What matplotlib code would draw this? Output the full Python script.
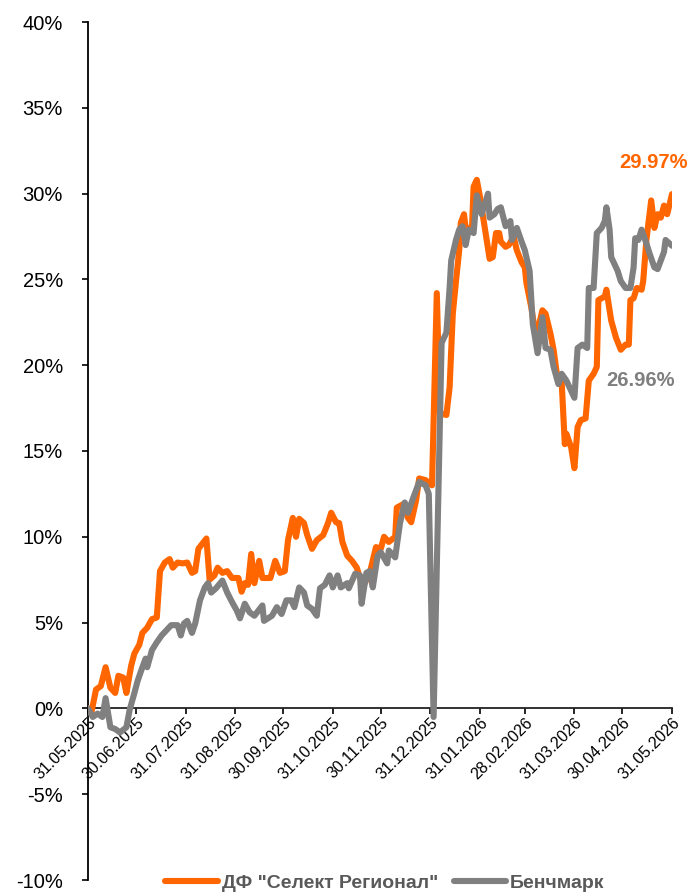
import matplotlib
matplotlib.use('Agg')
import matplotlib.pyplot as plt
import matplotlib.dates as mdates
import pandas as pd

START = '2025-05-31'

# days since 31.05.2025 and cumulative return, %
fund_days = [0, 2, 5, 8, 11, 14, 17, 19, 22, 24, 27, 29, 32, 34, 37, 40, 43, 45, 48, 51,
             53, 56, 59, 62, 65, 67, 69, 74, 76, 79, 81, 84, 87, 90, 94, 96, 98, 100, 102, 104,
             107, 109, 114, 117, 120, 123, 125, 128, 130, 132, 135, 137, 140, 143, 147, 150, 152, 155, 157, 159,
             162, 165, 168, 170, 173, 176, 180, 183, 185, 188, 192, 193, 197, 200, 202, 205, 207, 211, 215, 218,
             220, 224, 226, 228, 230, 232, 233, 235, 236, 240, 241, 243, 245, 248, 251, 253, 255, 257, 258, 261,
             263, 266, 268, 271, 273, 274, 277, 279, 281, 284, 286, 289, 291, 293, 296, 298, 299, 302, 304, 306,
             308, 311, 313, 316, 318, 319, 323, 324, 327, 330, 333, 336, 338, 339, 341, 343, 346, 347, 349, 352,
             354, 356, 358, 360, 362, 365]
fund_vals = [0.0, -0.3, 1.1, 1.3, 2.4, 1.2, 0.9, 1.9, 1.8, 0.9, 2.5, 3.2, 3.7, 4.4, 4.7, 5.2, 5.3, 8.0, 8.5, 8.7,
             8.2, 8.5, 8.45, 8.5, 7.9, 8.0, 9.3, 9.9, 7.5, 7.75, 8.2, 7.9, 8.0, 7.6, 7.6, 6.8, 7.3, 7.2, 9.0, 7.3,
             8.6, 7.6, 7.6, 8.6, 7.9, 8.0, 9.8, 11.1, 10.0, 11.05, 10.8, 10.1, 9.3, 9.8, 10.1, 10.8, 11.4, 10.85, 10.8, 9.7,
             8.9, 8.6, 8.2, 7.6, 7.3, 7.85, 9.4, 9.3, 10.0, 9.7, 10.0, 11.7, 11.9, 11.1, 10.85, 12.1, 13.4, 13.3, 13.0, 24.2,
             17.2, 17.1, 18.7, 23.0, 24.9, 26.7, 28.3, 28.8, 28.0, 28.0, 30.4, 30.8, 29.8, 28.0, 26.2, 26.3, 27.7, 27.7, 27.2, 26.9,
             27.0, 27.5, 26.7, 26.0, 25.7, 24.8, 23.4, 22.2, 22.0, 23.2, 23.0, 21.85, 20.9, 19.5, 19.1, 15.4, 16.0, 15.2, 14.0, 16.4,
             16.8, 16.9, 19.1, 19.5, 19.9, 23.8, 24.0, 24.4, 22.6, 21.6, 20.9, 21.2, 21.2, 23.8, 23.9, 24.5, 24.4, 24.9, 27.3, 29.6,
             28.0, 28.8, 28.6, 29.3, 28.8, 29.97]

bench_days = [0, 3, 6, 9, 11, 14, 17, 20, 24, 26, 29, 31, 34, 36, 37, 40, 43, 46, 49, 52,
              56, 58, 60, 62, 65, 67, 70, 73, 75, 77, 80, 84, 87, 90, 93, 95, 98, 101, 104, 109,
              110, 115, 118, 121, 124, 127, 129, 132, 135, 137, 140, 143, 145, 148, 151, 153, 156, 158, 162, 163,
              167, 170, 171, 174, 176, 178, 181, 183, 187, 188, 192, 195, 198, 200, 203, 205, 207, 211, 213, 216,
              221, 224, 226, 227, 230, 232, 234, 236, 238, 241, 243, 245, 246, 250, 251, 254, 256, 258, 261, 264,
              265, 268, 271, 273, 276, 278, 281, 284, 286, 289, 291, 294, 296, 299, 302, 304, 306, 309, 312, 313,
              316, 318, 321, 323, 324, 326, 327, 331, 333, 336, 339, 341, 342, 344, 346, 349, 351, 354, 356, 358,
              360, 361, 365]
bench_vals = [0.0, -0.5, -0.3, -0.5, 0.6, -1.1, -1.2, -1.4, -1.1, -0.1, 0.9, 1.6, 2.4, 2.9, 2.4, 3.4, 3.85, 4.25, 4.55, 4.85,
              4.85, 4.25, 4.95, 5.1, 4.4, 4.95, 6.3, 7.05, 7.3, 6.75, 7.0, 7.45, 6.75, 6.2, 5.7, 5.25, 6.1, 5.6, 5.4, 6.0,
              5.1, 5.4, 5.9, 5.5, 6.3, 6.3, 5.9, 7.05, 6.75, 6.0, 5.8, 5.4, 7.0, 7.2, 7.75, 7.05, 7.75, 7.05, 7.3, 7.0,
              7.85, 7.75, 6.1, 7.9, 8.0, 7.05, 8.9, 9.1, 8.45, 9.2, 8.8, 10.8, 12.0, 11.4, 12.2, 12.7, 13.2, 13.0, 12.5, -0.5,
              21.3, 21.9, 24.5, 26.1, 27.3, 27.9, 28.1, 27.0, 27.9, 27.7, 29.9, 29.2, 28.8, 30.0, 28.6, 28.8, 29.1, 29.2, 28.1, 28.4,
              27.3, 28.0, 27.2, 26.7, 25.5, 22.4, 20.7, 22.8, 21.0, 20.9, 19.9, 18.9, 19.5, 19.1, 18.5, 18.1, 21.0, 21.2, 21.0, 24.5,
              24.5, 27.7, 28.0, 28.4, 29.2, 27.9, 26.3, 25.5, 24.9, 24.5, 24.5, 25.7, 27.4, 27.3, 27.9, 27.1, 26.5, 25.7, 25.6, 26.1,
              26.6, 27.3, 26.96]

tick_dates = ['2025-05-31', '2025-06-30', '2025-07-31', '2025-08-31', '2025-09-30', '2025-10-31',
              '2025-11-30', '2025-12-31', '2026-01-31', '2026-02-28', '2026-03-31', '2026-04-30', '2026-05-31']

fund_name = 'ДФ "Селект Регионал"'
bench_name = 'Бенчмарк'
ORANGE = '#FF6600'
GRAY = '#808080'

plt.rcParams['font.family'] = ['Liberation Sans', 'DejaVu Sans']

start = pd.Timestamp(START)
fund_x = [start + pd.Timedelta(days=d) for d in fund_days]
bench_x = [start + pd.Timedelta(days=d) for d in bench_days]
ticks = pd.to_datetime(tick_dates)

fig = plt.figure(figsize=(6.95, 8.94), dpi=100)
ax = fig.add_axes([88 / 695, 1 - 880 / 894, (672 - 88) / 695, (880 - 22) / 894])

ax.plot(fund_x, fund_vals, color=ORANGE, lw=4.4, solid_joinstyle='round',
        solid_capstyle='round', label=fund_name, zorder=3)
ax.plot(bench_x, bench_vals, color=GRAY, lw=4.4, solid_joinstyle='round',
        solid_capstyle='round', label=bench_name, zorder=4)

ax.set_ylim(-10, 40)
ax.set_yticks(range(-10, 41, 5))
ax.set_yticklabels([f'{v}%' for v in range(-10, 41, 5)])
ax.set_xlim(ticks[0], ticks[-1])
ax.set_xticks(ticks)
ax.xaxis.set_major_formatter(mdates.DateFormatter('%d.%m.%Y'))

for s in ['top', 'right']:
    ax.spines[s].set_visible(False)
ax.spines['bottom'].set_position(('data', 0))
ax.spines['bottom'].set_linewidth(1.3)
ax.spines['left'].set_linewidth(1.3)
ax.spines['bottom'].set_color('#222222')

ax.tick_params(axis='y', direction='out', length=4, width=1.2, pad=14, labelsize=14.5)
ax.tick_params(axis='x', direction='out', length=4, width=1.2, pad=1, labelsize=11.5)
for lbl in ax.get_xticklabels():
    lbl.set_rotation(45)
    lbl.set_ha('right')
    lbl.set_va('top')
    lbl.set_rotation_mode('anchor')

ax.annotate(f'{fund_vals[-1]:.2f}%', xy=(fund_x[-1], fund_vals[-1]), xytext=(-13, 23),
            textcoords='offset points', ha='center', va='center', color=ORANGE,
            fontsize=14.5, fontweight='bold')
ax.annotate(f'{bench_vals[-1]:.2f}%', xy=(bench_x[-1], bench_vals[-1]), xytext=(-23, -97),
            textcoords='offset points', ha='center', va='center', color='#7f7f7f',
            fontsize=14.5, fontweight='bold')

leg = fig.legend(loc='center', bbox_to_anchor=(385 / 695, 1 - 883 / 894), ncol=2, frameon=False,
                 fontsize=14, handlelength=2.7, handletextpad=0.2, columnspacing=0.8,
                 borderaxespad=0, borderpad=0)
for t in leg.get_texts():
    t.set_color('#595959')
    t.set_fontweight('bold')

fig.savefig('out.png', dpi=100)
